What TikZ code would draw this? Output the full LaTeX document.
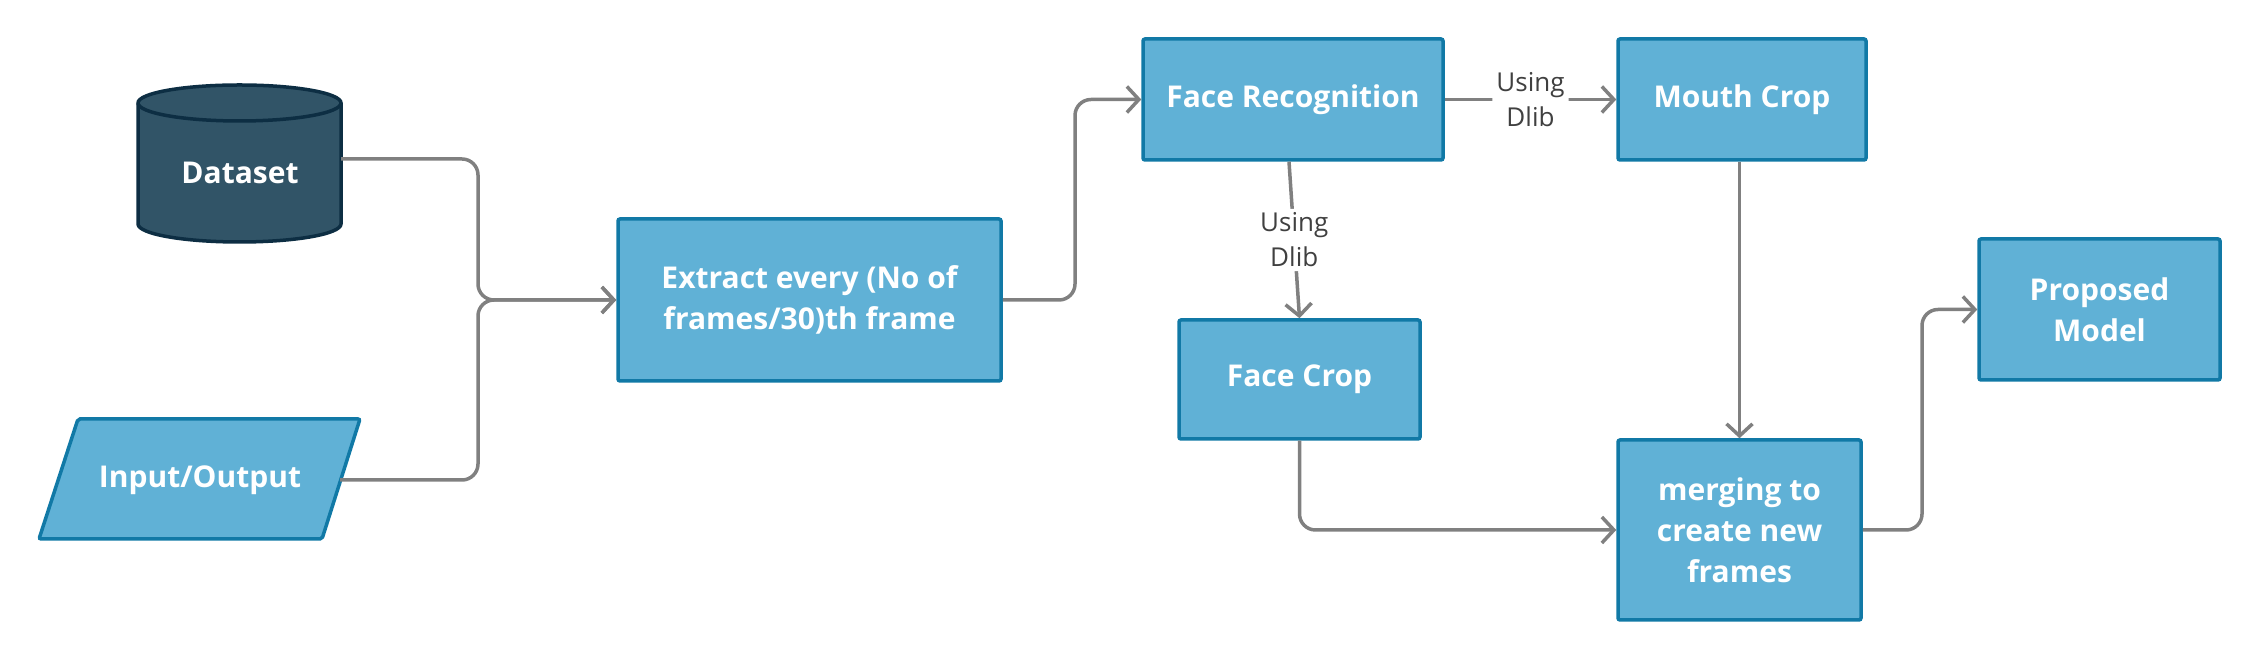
\documentclass[tikz,border=0pt]{standalone}
\usepackage{fontspec}
\setmainfont{Open Sans}
\usetikzlibrary{arrows.meta,positioning}
\definecolor{boxfill}{HTML}{60B1D6}
\definecolor{boxline}{HTML}{1179A6}
\definecolor{dbfill}{HTML}{315467}
\definecolor{dbline}{HTML}{0D2E43}
\definecolor{conn}{HTML}{808080}
\definecolor{lbltext}{HTML}{404040}
\tikzset{
  procbox/.style={draw=boxline, fill=boxfill, line width=3.5pt, rounded corners=2pt,
    text=white, font=\fontsize{30}{41}\selectfont\bfseries, align=center, inner sep=0pt},
  conline/.style={draw=conn, line width=3.5pt, rounded corners=16pt,
    -{Straight Barb[length=12pt,width=26pt,line width=3.5pt]}},
  lbl/.style={fill=white, text=lbltext, font=\fontsize{26}{35}\selectfont, align=center, inner sep=4pt},
  wtext/.style={text=white, font=\fontsize{30}{41}\selectfont\bfseries, align=center}
}
\begin{document}
\begin{tikzpicture}[x=1pt,y=1pt]
\useasboundingbox (0,0) rectangle (2260,660);
% Dataset cylinder
\draw[draw=dbline, fill=dbfill, line width=3.5pt]
  (138,557) -- (138,436) arc[start angle=180,end angle=360,x radius=101.5pt,y radius=18pt]
  -- (341,557) arc[start angle=0,end angle=180,x radius=101.5pt,y radius=18pt] -- cycle;
\draw[draw=dbline, line width=3.5pt] (138,557) arc[start angle=180,end angle=360,x radius=101.5pt,y radius=18pt];
\node[wtext] (ds) at (240,487) {Dataset};
\coordinate (dsout) at (341,501);
% Input/Output parallelogram
\draw[draw=boxline, fill=boxfill, line width=3.5pt, rounded corners=2pt]
  (78,241) -- (360,241) -- (322,121) -- (39,121) -- cycle;
\node[wtext] (io) at (200,180) {Input/Output};
\coordinate (ioout) at (340,180);
% boxes
\node[procbox, minimum width=383pt, minimum height=162pt] (ex) at (809.5,360) {Extract every (No of\\frames/30)th frame};
\node[procbox, minimum width=300pt, minimum height=121pt] (fr) at (1293,560.5) {Face Recognition};
\node[procbox, minimum width=248pt, minimum height=121pt] (mc) at (1742,560.5) {Mouth Crop};
\node[procbox, minimum width=241pt, minimum height=119pt] (fc) at (1299.5,280.5) {Face Crop};
\node[procbox, minimum width=243pt, minimum height=180pt] (mg) at (1739.5,130) {merging to\\create new\\frames};
\node[procbox, minimum width=241pt, minimum height=141pt] (pm) at (2099.5,350.5) {Proposed\\Model};
% connectors
\draw[conline] (dsout) -- (478,501) -- (478,360) -- (ex.west);
\draw[conline] (ioout) -- (478,180) -- (478,360) -- (ex.west);
\draw[conline] (ex.east) -- (1075,360) -- (1075,560.5) -- (fr.west);
\draw[conline] (fr.east) -- node[lbl] (l1) {Using\\Dlib} (mc.west);
\draw[conline] ([xshift=-4pt]fr.south) -- node[lbl] (l2) {Using\\Dlib} (fc.north);
\draw[conline] (fc.south) -- (1299.5,130) -- (mg.west);
\draw[conline] (mc.south -| mg.north) -- (mg.north);
\draw[conline] (mg.east) -- (1922,130) -- (1922,350.5) -- (pm.west);
\end{tikzpicture}
\end{document}
